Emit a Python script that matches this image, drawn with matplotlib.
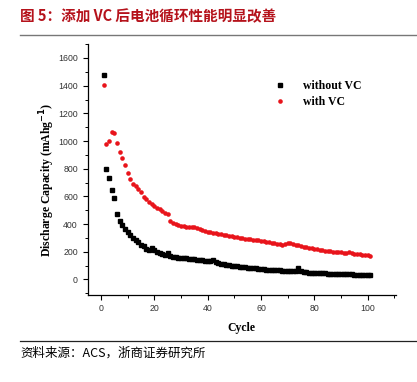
import numpy as np
import matplotlib.pyplot as plt
from matplotlib.ticker import MultipleLocator

plt.rcParams['font.family'] = ['Liberation Serif', 'DejaVu Serif']

cycles = list(range(1, 102))

without_vc = [1480, 800, 732, 648, 586, 476, 425, 392, 362, 340,
              318, 300, 285, 268, 252, 240, 222, 215, 228, 212,
              200, 190, 186, 180, 192, 172, 165, 162, 158, 156,
              154, 152, 150, 148, 146, 143, 141, 139, 137, 135,
              133, 138, 128, 118, 114, 110, 106, 103, 101, 98,
              95, 92, 90, 88, 86, 84, 82, 80, 77, 75,
              74, 72, 71, 70, 68, 67, 66, 64, 63, 62,
              61, 60, 59, 80, 60, 52, 51, 50, 49, 48,
              47, 46, 45, 44, 43, 42, 41, 40, 40, 39,
              38, 37, 37, 36, 35, 35, 34, 34, 33, 33, 32]

with_vc = [1405, 982, 1000, 1068, 1057, 988, 922, 874, 824, 772,
           728, 692, 672, 655, 630, 598, 580, 560, 545, 532,
           518, 508, 495, 482, 470, 420, 408, 400, 392, 388,
           384, 380, 377, 380, 382, 375, 366, 358, 352, 346,
           342, 338, 335, 332, 328, 324, 320, 316, 312, 308,
           305, 302, 299, 296, 293, 290, 287, 285, 282, 279,
           276, 273, 270, 266, 262, 258, 254, 252, 256, 262,
           264, 258, 252, 246, 242, 238, 234, 230, 226, 222,
           218, 214, 211, 208, 206, 204, 202, 200, 198, 196,
           194, 193, 200, 190, 186, 184, 182, 180, 178, 176, 172]

title = '图 5：添加 VC 后电池循环性能明显改善'
source = '资料来源：ACS，浙商证券研究所'
cjk = ['Noto Sans CJK SC', 'DejaVu Sans']

fig = plt.figure(figsize=(4.17, 3.82), dpi=100)
ax = fig.add_axes([0.210, 0.2285, 0.739, 0.656])

ax.plot(cycles, without_vc, 's', color='black', markersize=2.6, label='without VC')
ax.plot(cycles, with_vc, 'o', color='#e8141b', markersize=3.3, markeredgewidth=0, label='with VC')

ax.set_xlim(-5, 110.5)
ax.set_ylim(-110, 1700)
ax.xaxis.set_major_locator(MultipleLocator(20))
ax.xaxis.set_minor_locator(MultipleLocator(10))
ax.yaxis.set_major_locator(MultipleLocator(200))
ax.yaxis.set_minor_locator(MultipleLocator(100))

for s in ['top', 'right']:
    ax.spines[s].set_visible(False)
for s in ['left', 'bottom']:
    ax.spines[s].set_linewidth(0.9)
ax.tick_params(which='major', direction='out', length=3.5, width=0.8,
               labelsize=6.3, labelcolor='#333333')
ax.tick_params(which='minor', direction='out', length=2, width=0.7)
for lab in ax.get_xticklabels() + ax.get_yticklabels():
    lab.set_family('Liberation Sans')

ax.set_xlabel('Cycle', fontsize=8.5, fontweight='bold', labelpad=6)
ax.set_ylabel('Discharge Capacity (mAhg$^{\\mathbf{-1}}$)', fontsize=8.5,
              fontweight='bold')
ax.yaxis.set_label_coords(-0.10, 0.46)

ax.legend(loc='upper left', bbox_to_anchor=(0.553, 0.9), frameon=False,
          prop={'weight': 'bold', 'size': 8.5}, handletextpad=0.9,
          labelspacing=0.35, markerscale=1.0)

fig.text(0.048, 0.958, title, color='#b5121b', fontsize=10.5, fontweight='bold',
         family=cjk, va='center', ha='left')
fig.add_artist(plt.Line2D([0.048, 1.0], [0.909, 0.909], color='#777777', lw=1.0))
fig.add_artist(plt.Line2D([0.048, 1.0], [0.107, 0.107], color='#222222', lw=0.9))
fig.text(0.05, 0.075, source, color='black', fontsize=9, family=cjk,
         va='center', ha='left')

fig.savefig('out.png', dpi=100)
